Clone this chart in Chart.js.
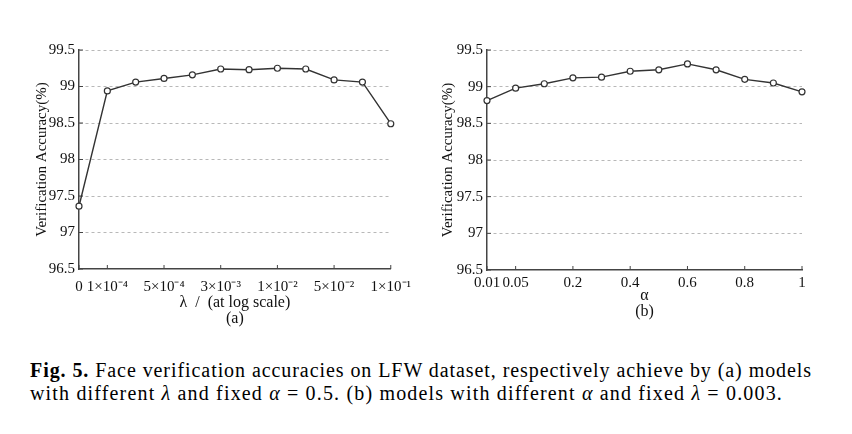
<!DOCTYPE html>
<html>
<head>
<meta charset="utf-8">
<script src="https://cdn.jsdelivr.net/npm/chart.js@4.4.0/dist/chart.umd.min.js"></script>
<style>
body { margin: 0; background: #fff; width: 852px; height: 434px; overflow: hidden; position: relative; font-family: 'Liberation Serif', 'DejaVu Serif', serif; }
.box { position: absolute; top: 0; height: 340px; }
#boxA { left: 0; width: 420px; }
#boxB { left: 420px; width: 432px; }
.cap { position: absolute; left: 30px; font-size: 20px; line-height: 20px; color: #000; white-space: nowrap; }
#cap1 { top: 360px; }
#cap2 { top: 383px; }
</style>
</head>
<body>
<div class="box" id="boxA"><canvas id="chartA"></canvas></div>
<div class="box" id="boxB"><canvas id="chartB"></canvas></div>
<div class="cap" id="cap1"><b>Fig. 5.</b> Face verification accuracies on LFW dataset, respectively achieve by (a) models</div>
<div class="cap" id="cap2">with different <i>λ</i> and fixed <i>α</i> = 0.5. (b) models with different <i>α</i> and fixed <i>λ</i> = 0.003.</div>
<script>
// (a) lambda, only some positions are labelled on the axis
var lambdaLabels = ['0', '1×10⁻⁴', '', '5×10⁻⁴', '', '3×10⁻³', '', '1×10⁻²', '', '5×10⁻²', '', '1×10⁻¹'];
var lambdaAcc = [97.36, 98.94, 99.06, 99.11, 99.16, 99.24, 99.23, 99.25, 99.24, 99.09, 99.06, 98.49];

// (b) alpha
var alphaValues = ['0.01', '0.05', '0.1', '0.2', '0.3', '0.4', '0.5', '0.6', '0.7', '0.8', '0.9', '1'];
var alphaShown = ['0.01', '0.05', '0.2', '0.4', '0.6', '0.8', '1'];
var alphaAcc = [98.81, 98.98, 99.04, 99.12, 99.13, 99.21, 99.23, 99.31, 99.23, 99.10, 99.05, 98.93];

var yTicksMin = 96.5, yTicksMax = 99.5, yStep = 0.5;

var axisColor = '#444';
var serif = 'Liberation Serif';

// caption lines are spread out to the width they have in the figure
function fitWidth(id, target)
{
	var el = document.getElementById(id);
	var natural = el.getBoundingClientRect().width;
	var chars = el.textContent.length;
	el.style.letterSpacing = ((target - natural) / chars) + 'px';
}
fitWidth('cap1', 782);
fitWidth('cap2', 753);

// small ticks pointing into the plot
var inwardTicks = {
	id: 'inwardTicks',
	beforeDatasetsDraw: function(chart) {
		var ctx = chart.ctx, x = chart.scales.x, y = chart.scales.y;
		ctx.save();
		ctx.strokeStyle = axisColor;
		ctx.lineWidth = 1;
		ctx.beginPath();
		for (var i = 0; i < x.ticks.length; i++) {
			if (!x.ticks[i].label) continue;
			var px = x.getPixelForTick(i);
			ctx.moveTo(px, x.top);
			ctx.lineTo(px, x.top - 4);
		}
		for (var j = 0; j < y.ticks.length; j++) {
			var py = y.getPixelForTick(j);
			ctx.moveTo(y.right, py);
			ctx.lineTo(y.right + 4, py);
		}
		ctx.stroke();
		ctx.restore();
	}
};

function createChart(forid, labels, data, tickFn, xTitle, lay) 
{
	return new Chart(document.getElementById(forid), {
		type: 'line',
		data: {
			labels: labels,
			datasets: [{
				data: data,
				borderColor: '#333',
				borderWidth: 1.4,
				pointRadius: 3,
				pointBorderWidth: 1.2,
				pointBackgroundColor: '#fff',
				pointBorderColor: '#333',
				tension: 0
			}]
		},
		options: {
			responsive: true,
			maintainAspectRatio: false,
			animation: false,
			layout: { padding: { left: lay.left, right: lay.right, top: 50, bottom: lay.bottom } },
			plugins: { legend: { display: false }, tooltip: { enabled: false } },
			scales: {
				x: {
					grid: { display: false, drawTicks: false },
					border: { display: true, color: axisColor, width: 1.5 },
					ticks: {
						autoSkip: false,
						maxRotation: 0,
						padding: lay.tickPad,
						color: '#111',
						font: { family: serif, size: 15 },
						callback: tickFn
					},
					title: {
						display: true,
						text: xTitle,
						color: '#111',
						padding: { top: 0, bottom: 0 },
						font: { family: serif, size: 16, lineHeight: '16px' }
					},
					afterFit: function(s) { s.height = lay.xh; }
				},
				y: {
					min: yTicksMin,
					max: yTicksMax,
					grid: {
						drawTicks: false,
						color: function(c) { return c.tick && c.tick.value === yTicksMin ? 'rgba(0,0,0,0)' : '#b8b8b8'; },
						lineWidth: 1
					},
					border: { display: true, color: axisColor, width: 1.5, dash: [3, 3] },
					ticks: {
						stepSize: yStep,
						padding: 4,
						color: '#111',
						font: { family: serif, size: 15 },
						callback: function(v) { return String(v); }
					},
					title: {
						display: true,
						text: 'Verification Accuracy(%)',
						color: '#111',
						padding: { top: 0, bottom: 0 },
						font: { family: serif, size: 15 }
					},
					afterFit: function(s) { s.width = lay.yw; }
				}
			}
		},
		plugins: [inwardTicks]
	});
}

createChart('chartA', lambdaLabels, lambdaAcc, function(v, i) { return lambdaLabels[i]; },
	['λ  /  (at log scale)', '(a)'], { left: 33, right: 27, bottom: 13, xh: 58, yw: 46, tickPad: 9 });

createChart('chartB', alphaValues, alphaAcc, function(v, i) {
		return alphaShown.indexOf(alphaValues[i]) >= 0 ? alphaValues[i] : '';
	},
	['α', '(b)'], { left: 19, right: 50, bottom: 20, xh: 50, yw: 48, tickPad: 4 });
</script>
</body>
</html>
